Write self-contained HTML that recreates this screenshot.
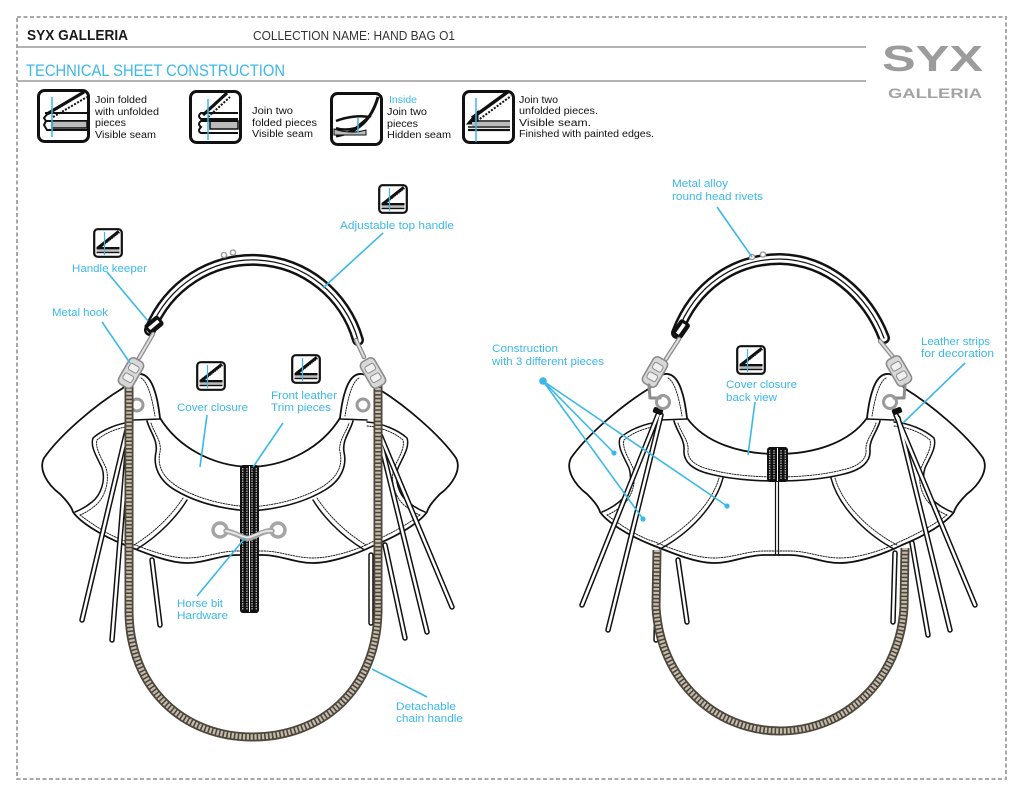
<!DOCTYPE html>
<html><head><meta charset="utf-8">
<style>
html,body{margin:0;padding:0;background:#fff;}
svg{display:block;}
text{font-family:"Liberation Sans",Arial,sans-serif;}
</style></head><body>
<svg width="1024" height="791" viewBox="0 0 1024 791" xmlns="http://www.w3.org/2000/svg">
<defs>
<g id="ic">
 <rect x="1.2" y="1.2" width="27.6" height="27.6" rx="3.5" fill="#fff" stroke="#111" stroke-width="2.2"/>
 <path d="M4.5 20.5 L26 3.5" stroke="#111" stroke-width="3.4" fill="none"/>
 <path d="M8 20 L26.5 5.2" stroke="#fff" stroke-width="0.9" stroke-dasharray="1.2 1" fill="none"/>
 <rect x="3.5" y="19" width="23" height="2.4" fill="#111"/>
 <rect x="3.5" y="21.4" width="23" height="2.4" fill="#bdbdbd"/>
 <rect x="3.5" y="23.8" width="23" height="1.4" fill="#111"/>
 <line x1="11.5" y1="4" x2="11.5" y2="27" stroke="#3bb8e8" stroke-width="1.2"/>
</g>
</defs>

<!-- frame -->
<rect x="17" y="17" width="989" height="762" fill="none" stroke="#a8a8a8" stroke-width="2" stroke-dasharray="4 2.5"/>

<!-- header -->
<text x="27" y="40" font-size="15" font-weight="bold" fill="#1a1a1a" textLength="101" lengthAdjust="spacingAndGlyphs">SYX GALLERIA</text>
<text x="253" y="40" font-size="12.5" fill="#333" textLength="202" lengthAdjust="spacingAndGlyphs">COLLECTION NAME: HAND BAG O1</text>
<line x1="17" y1="47" x2="866" y2="47" stroke="#9a9a9a" stroke-width="1.5"/>
<text x="26" y="76" font-size="16.5" fill="#3bb8e8" textLength="259" lengthAdjust="spacingAndGlyphs">TECHNICAL SHEET CONSTRUCTION</text>
<line x1="17" y1="81" x2="866" y2="81" stroke="#9a9a9a" stroke-width="1.5"/>
<text x="882" y="71" font-size="36" font-weight="bold" fill="#9c9c9c" textLength="101" lengthAdjust="spacingAndGlyphs">SYX</text>
<text x="888" y="98" font-size="14" font-weight="bold" fill="#a3a3a3" textLength="94" lengthAdjust="spacingAndGlyphs">GALLERIA</text>

<!-- legend icon 1 -->
<g fill="none" stroke="#111">
 <rect x="38.5" y="90.5" width="50" height="51" rx="6" fill="#fff" stroke-width="3"/>
 <path d="M47 114 L84 92" stroke-width="3.2"/>
 <path d="M53 117 L87 97" stroke-width="2" stroke-dasharray="2 1.5"/>
 <path d="M48 113 L44 118 L46 121 H87" stroke-width="2"/>
 <path d="M45 113 H87" stroke-width="2"/>
 <path d="M52 121 H87 V128 H52 Z" fill="#bbb" stroke-width="1.5"/>
 <path d="M46 121 L44 125 L47 130 H87" stroke-width="2"/>
 <line x1="52" y1="97" x2="52" y2="137" stroke="#3bb8e8" stroke-width="1.5"/>
</g>
<text font-size="10" fill="#111">
 <tspan x="95" y="103" textLength="52" lengthAdjust="spacingAndGlyphs">Join folded</tspan>
 <tspan x="95" y="115" textLength="64" lengthAdjust="spacingAndGlyphs">with unfolded</tspan>
 <tspan x="95" y="126" textLength="31" lengthAdjust="spacingAndGlyphs">pieces</tspan>
 <tspan x="95" y="138" textLength="61" lengthAdjust="spacingAndGlyphs">Visible seam</tspan>
</text>

<!-- legend icon 2 -->
<g fill="none" stroke="#111">
 <rect x="190.5" y="91.5" width="50" height="51" rx="6" fill="#fff" stroke-width="3"/>
 <path d="M203 115 L227 93" stroke-width="3.2"/>
 <path d="M208 117 L230 97" stroke-width="2" stroke-dasharray="2 1.5"/>
 <path d="M238 113 H201 Q197 116 201 119 H238" stroke-width="2"/>
 <path d="M210 121 H238 V129 H210 Z" fill="#bbb" stroke-width="1.5"/>
 <path d="M238 121 H201 Q197 124 201 127 Q197 131 201 133 H238" stroke-width="2"/>
 <line x1="208" y1="99" x2="208" y2="140" stroke="#3bb8e8" stroke-width="1.5"/>
</g>
<text font-size="10" fill="#111">
 <tspan x="252" y="114" textLength="41" lengthAdjust="spacingAndGlyphs">Join two</tspan>
 <tspan x="252" y="126" textLength="65" lengthAdjust="spacingAndGlyphs">folded pieces</tspan>
 <tspan x="252" y="137" textLength="61" lengthAdjust="spacingAndGlyphs">Visible seam</tspan>
</text>

<!-- legend icon 3 -->
<g fill="none" stroke="#111">
 <rect x="331.5" y="93.5" width="50" height="51" rx="6" fill="#fff" stroke-width="3"/>
 <path d="M378 97 C372 118 360 132 336 136" stroke-width="3"/>
 <path d="M334 129 C346 133 356 133 366 130 L366 135 L334 135 Z" fill="#bbb" stroke-width="1"/>
 <path d="M336 121 C346 117 360 115 369 117 L356 128 C348 130 341 130 336 128" stroke-width="2.5"/>
 <line x1="358" y1="118" x2="358" y2="133" stroke="#3bb8e8" stroke-width="1.5"/>
</g>
<text font-size="10">
 <tspan x="389" y="103" fill="#3bb8e8" textLength="28" lengthAdjust="spacingAndGlyphs">Inside</tspan>
 <tspan x="387" y="115" fill="#111" textLength="40" lengthAdjust="spacingAndGlyphs">Join two</tspan>
 <tspan x="387" y="127" fill="#111" textLength="31" lengthAdjust="spacingAndGlyphs">pieces</tspan>
 <tspan x="387" y="138" fill="#111" textLength="64" lengthAdjust="spacingAndGlyphs">Hidden seam</tspan>
</text>

<!-- legend icon 4 -->
<g fill="none" stroke="#111">
 <rect x="463.5" y="91.5" width="50" height="51" rx="6" fill="#fff" stroke-width="3"/>
 <path d="M472 118 L509 91" stroke-width="3.4"/>
 <path d="M477 121 L511 96" stroke-width="2" stroke-dasharray="2 1.5"/>
 <path d="M467 124 L478 111 L478 124 Z" fill="#111" stroke-width="1"/>
 <path d="M472 121 H510" stroke-width="1.5"/>
 <rect x="472" y="122" width="38" height="4" fill="#bbb" stroke="none"/>
 <path d="M468 127 H510" stroke-width="1.5"/>
 <path d="M468 130 H510" stroke-width="2.2"/>
 <line x1="476" y1="98" x2="476" y2="142" stroke="#3bb8e8" stroke-width="1.5"/>
</g>
<text font-size="10" fill="#111">
 <tspan x="519" y="103" textLength="39" lengthAdjust="spacingAndGlyphs">Join two</tspan>
 <tspan x="519" y="114" textLength="79" lengthAdjust="spacingAndGlyphs">unfolded pieces.</tspan>
 <tspan x="519" y="126" textLength="72" lengthAdjust="spacingAndGlyphs">Visible seam.</tspan>
 <tspan x="519" y="137" textLength="135" lengthAdjust="spacingAndGlyphs">Finished with painted edges.</tspan>
</text>

<!-- ================= LEFT BAG ================= -->
<g fill="none" stroke="#111" stroke-linecap="round" stroke-linejoin="round">
 <!-- handle -->
 <path d="M150 330 C168 285 212 258 257 260 C305 262 345 295 358 340" stroke-width="12"/>
 <path d="M150 330 C168 285 212 258 257 260 C305 262 345 295 358 340" stroke="#fff" stroke-width="7"/>
 <path d="M150 330 C168 285 212 258 257 260 C305 262 345 295 358 340" stroke-width="1.3"/>
 <circle cx="224" cy="255" r="2.6" stroke="#999" stroke-width="1.4" fill="#fff"/>
 <circle cx="233" cy="252.5" r="2.6" stroke="#999" stroke-width="1.4" fill="#fff"/>

 <!-- body silhouette -->
 <path d="M123 388 C127 380 132 375 138 374 C147 373 152 382 155 392 C158 401 159 410 160 418 C178 447 212 466 250 467 C288 466 322 447 340 418 C341 410 342 401 345 392 C348 382 353 373 362 374 C368 375 373 380 377 388 C405 405 440 435 456 458 C462 470 452 485 440 494 C432 502 428 508 427 512 C420 522 400 535 375 545 C355 555 330 563 313 563 C295 563 280 555 263 555 L237 555 C220 555 205 563 187 563 C170 563 150 555 125 545 C100 535 80 522 73 512 C72 508 68 502 60 494 C48 485 38 470 44 458 C60 435 95 405 123 388 Z" fill="#fff" stroke-width="1.8"/>
 <!-- interior -->
 <path d="M133 420 L160 419 M340 419 L367 420" stroke-width="1.5"/>
 <path d="M147 421 C150 432 158 440 156 452 C153 465 158 480 175 490 C195 502 220 509 250 511 C280 509 305 502 325 490 C342 480 347 465 344 452 C342 440 350 432 353 421" stroke-width="1.6"/>
 <path d="M151 423 C154 433 162 441 160 452 C157 465 162 477 178 487 C197 498 221 505 250 507 C279 505 303 498 322 487 C338 477 343 465 340 452 C338 441 346 433 349 423" stroke-width="0.9" stroke-dasharray="1.5 1.2"/>
 <path d="M133 422 C118 423 102 430 93 438 C90 447 97 457 102 468 C106 480 101 495 92 502 C86 507 80 510 75 512" stroke-width="1.5"/>
 <path d="M133 426 C119 427 105 433 97 440 C95 448 101 457 106 468 C110 481 105 497 96 505 C90 510 85 513 80 515" stroke-width="0.9" stroke-dasharray="1.5 1.2"/>
 <path d="M367 422 C382 423 398 430 407 438 C410 447 403 457 398 468 C394 480 399 495 408 502 C414 507 420 510 425 512" stroke-width="1.5"/>
 <path d="M367 426 C381 427 395 433 403 440 C405 448 399 457 394 468 C390 481 395 497 404 505 C410 510 415 513 420 515" stroke-width="0.9" stroke-dasharray="1.5 1.2"/>
 <path d="M187 500 C178 515 160 535 137 549 M313 500 C322 515 340 535 363 549" stroke-width="1.5"/>
 <path d="M183 498 C174 512 157 531 134 545 M317 498 C326 512 343 531 366 545" stroke-width="0.9" stroke-dasharray="1.5 1.2"/>
 <path d="M80 515 C100 530 115 538 128 542 C150 551 170 558 187 558 C205 558 220 551 237 551 L263 551 C280 551 295 558 313 558 C330 558 355 551 372 542 C390 534 405 526 420 515" stroke-width="0.9" stroke-dasharray="1.5 1.2"/>
 <path d="M141 378 C148 382 152 398 155 416 M359 378 C352 382 348 398 345 416" stroke-width="0.9" stroke-dasharray="1.5 1.2"/>

 <!-- leather strips -->
 <g stroke-width="5.5">
  <path d="M127 430 L82 620"/><path d="M128 440 L112 640"/><path d="M152 560 L160 625"/>
  <path d="M378 430 L452 607"/><path d="M380 440 L427 632"/><path d="M385 545 L405 638"/><path d="M371 555 L371 623"/>
 </g>
 <g stroke="#fff" stroke-width="2.5">
  <path d="M127 430 L82 620"/><path d="M128 440 L112 640"/><path d="M152 560 L160 625"/>
  <path d="M378 430 L452 607"/><path d="M380 440 L427 632"/><path d="M385 545 L405 638"/><path d="M371 555 L371 623"/>
 </g>

 <!-- rings -->
 <circle cx="137" cy="405" r="6" stroke="#9a9a9a" stroke-width="3"/>
 <circle cx="363" cy="405" r="6" stroke="#9a9a9a" stroke-width="3"/>

 <!-- chain -->
 <path d="M129 385 L129 612 C130 690 185 737 252 737 C320 737 376 692 378 612 L378 385" stroke="#4d463b" stroke-width="9" stroke-linecap="butt"/>
 <path d="M129 385 L129 612 C130 690 185 737 252 737 C320 737 376 692 378 612 L378 385" stroke="#c4bcae" stroke-width="5.5" stroke-dasharray="2.2 1.6" stroke-linecap="butt"/>

 <!-- keeper -->
 <g transform="rotate(-40 154 325)"><rect x="145" y="319" width="18" height="12" rx="3" fill="#111" stroke="none"/><rect x="148" y="323" width="12" height="3.5" fill="#fff" stroke="none"/></g>
 <!-- hooks -->
 <path d="M153 334 L139 358" stroke="#8c8c8c" stroke-width="4.5"/>
 <path d="M153 334 L139 358" stroke="#e0e0e0" stroke-width="2"/>
 <g transform="rotate(30 131 373)"><rect x="123" y="358" width="16" height="30" rx="5" fill="#d8d8d8" stroke="#8c8c8c" stroke-width="1.6"/><rect x="126" y="364" width="10" height="7" rx="2" fill="#f0f0f0" stroke="#8c8c8c" stroke-width="1"/><rect x="126" y="375" width="10" height="7" rx="2" fill="#f0f0f0" stroke="#8c8c8c" stroke-width="1"/></g>
 <path d="M356 340 L364 357" stroke="#8c8c8c" stroke-width="4.5"/>
 <path d="M356 340 L364 357" stroke="#e0e0e0" stroke-width="2"/>
 <g transform="rotate(-30 373 373)"><rect x="365" y="358" width="16" height="30" rx="5" fill="#d8d8d8" stroke="#8c8c8c" stroke-width="1.6"/><rect x="368" y="364" width="10" height="7" rx="2" fill="#f0f0f0" stroke="#8c8c8c" stroke-width="1"/><rect x="368" y="375" width="10" height="7" rx="2" fill="#f0f0f0" stroke="#8c8c8c" stroke-width="1"/></g>

 <!-- center strap -->
 <rect x="240" y="465" width="19" height="148" rx="3" fill="#111" stroke="none"/>
 <g stroke="#fff" stroke-width="0.9" stroke-linecap="butt">
  <path d="M242.8 468 V610 M247 468 V610 M252 468 V610 M256.2 468 V610" stroke-dasharray="1.5 1"/>
  <path d="M249.5 466 V612" stroke-width="1"/>
 </g>

 <!-- horse bit -->
 <circle cx="220" cy="530" r="7" stroke="#a5a5a5" stroke-width="3.5"/>
 <circle cx="278" cy="530" r="7" stroke="#a5a5a5" stroke-width="3.5"/>
 <path d="M226 531 C238 533 244 540 250 538 C257 536 264 530 272 531" stroke="#a5a5a5" stroke-width="5.5"/>
 <path d="M226 531 C238 533 244 539 250 537 C257 535 264 530 272 531" stroke="#e6e6e6" stroke-width="2"/>
</g>

<!-- left icons -->
<use href="#ic" x="93" y="228"/>
<use href="#ic" x="378" y="184"/>
<use href="#ic" x="196" y="361"/>
<use href="#ic" x="291" y="354"/>

<!-- left labels -->
<g stroke="#3bb8e8" stroke-width="1.6">
 <line x1="107" y1="272" x2="148" y2="321"/>
 <line x1="102" y1="322" x2="130" y2="363"/>
 <line x1="383" y1="233" x2="323" y2="288"/>
 <line x1="207" y1="415" x2="200" y2="467"/>
 <line x1="283" y1="423" x2="253" y2="467"/>
 <line x1="197" y1="596" x2="245" y2="538"/>
 <line x1="427" y1="697" x2="372" y2="669"/>
</g>
<g font-size="11" fill="#3bb8e8">
 <text x="72" y="272" textLength="75" lengthAdjust="spacingAndGlyphs">Handle keeper</text>
 <text x="52" y="316" textLength="56" lengthAdjust="spacingAndGlyphs">Metal hook</text>
 <text x="340" y="229" textLength="114" lengthAdjust="spacingAndGlyphs">Adjustable top handle</text>
 <text x="177" y="411" textLength="71" lengthAdjust="spacingAndGlyphs">Cover closure</text>
 <text x="271" y="399" textLength="66" lengthAdjust="spacingAndGlyphs">Front leather</text>
 <text x="271" y="411" textLength="60" lengthAdjust="spacingAndGlyphs">Trim pieces</text>
 <text x="177" y="607" textLength="46" lengthAdjust="spacingAndGlyphs">Horse bit</text>
 <text x="177" y="619" textLength="51" lengthAdjust="spacingAndGlyphs">Hardware</text>
 <text x="396" y="710" textLength="60" lengthAdjust="spacingAndGlyphs">Detachable</text>
 <text x="396" y="722" textLength="67" lengthAdjust="spacingAndGlyphs">chain handle</text>
</g>

<!-- ================= RIGHT BAG ================= -->
<g fill="none" stroke="#111" stroke-linecap="round" stroke-linejoin="round">
 <path d="M677 333 C695 285 735 259 780 259 C828 260 868 295 884 338" stroke-width="12"/>
 <path d="M677 333 C695 285 735 259 780 259 C828 260 868 295 884 338" stroke="#fff" stroke-width="7"/>
 <path d="M677 333 C695 285 735 259 780 259 C828 260 868 295 884 338" stroke-width="1.3"/>
 <circle cx="752" cy="257" r="2.6" stroke="#999" stroke-width="1.4" fill="#fff"/>
 <circle cx="763" cy="254.5" r="2.6" stroke="#999" stroke-width="1.4" fill="#fff"/>

 <path d="M650 388 C654 380 659 375 665 374 C674 373 679 382 682 392 C685 401 686 410 687 418 C705 443 740 454 777 454 C814 454 849 443 867 418 C868 410 869 401 872 392 C875 382 880 373 889 374 C895 375 900 380 904 388 C932 405 967 435 983 458 C989 470 979 485 967 494 C959 502 955 508 954 512 C947 522 927 535 902 545 C882 555 857 563 840 563 C822 563 807 555 790 555 L764 555 C747 555 732 563 714 563 C697 563 677 555 652 545 C627 535 607 522 600 512 C599 508 595 502 587 494 C575 485 565 470 571 458 C587 435 622 405 650 388 Z" fill="#fff" stroke-width="1.8"/>
 <path d="M660 420 L687 419 M867 419 L894 420" stroke-width="1.5"/>
 <path d="M674 421 C677 432 685 440 684 450 C683 462 693 470 710 474 C730 479 755 481 777 481 C799 481 824 479 844 474 C861 470 871 462 870 450 C869 440 877 432 880 421" stroke-width="1.6"/>
 <path d="M678 423 C681 433 689 441 688 450 C687 460 697 467 712 470 C731 475 756 477 777 477 C798 477 823 475 842 470 C857 467 867 460 866 450 C865 441 873 433 876 423" stroke-width="0.9" stroke-dasharray="1.5 1.2"/>
 <path d="M660 422 C645 423 629 430 620 438 C617 447 624 457 629 468 C633 480 628 495 619 502 C613 507 607 510 602 512" stroke-width="1.5"/>
 <path d="M660 426 C646 427 632 433 624 440 C622 448 628 457 633 468 C637 481 632 497 623 505 C617 510 612 513 607 515" stroke-width="0.9" stroke-dasharray="1.5 1.2"/>
 <path d="M894 422 C909 423 925 430 934 438 C937 447 930 457 925 468 C921 480 926 495 935 502 C941 507 947 510 952 512" stroke-width="1.5"/>
 <path d="M894 426 C908 427 922 433 930 440 C932 448 926 457 921 468 C917 481 922 497 931 505 C937 510 942 513 947 515" stroke-width="0.9" stroke-dasharray="1.5 1.2"/>
 <path d="M723 478 C716 505 690 533 660 549 M831 478 C838 505 864 533 894 549" stroke-width="1.5"/>
 <path d="M719 478 C712 503 687 529 657 545 M835 478 C842 503 867 529 897 545" stroke-width="0.9" stroke-dasharray="1.5 1.2"/>
 <path d="M607 515 C627 530 642 538 655 542 C677 551 697 558 714 558 C732 558 747 551 764 551 L790 551 C807 551 822 558 840 558 C857 558 882 551 899 542 C917 534 932 526 947 515" stroke-width="0.9" stroke-dasharray="1.5 1.2"/>
 <path d="M668 378 C675 382 679 398 682 416 M886 378 C879 382 875 398 872 416" stroke-width="0.9" stroke-dasharray="1.5 1.2"/>
 <!-- center seam -->
 <path d="M775.5 481 V555 M778.5 481 V555" stroke-width="1.2"/>
 <rect x="767" y="447" width="21" height="35" rx="3" fill="#111" stroke="none"/>
 <g stroke="#fff" stroke-width="0.9" stroke-linecap="butt">
  <path d="M769.8 450 V479 M774 450 V479 M781 450 V479 M785.2 450 V479" stroke-dasharray="1.5 1"/>
  <path d="M777.5 448 V481" stroke-width="1"/>
 </g>

 <!-- strips -->
 <g stroke-width="5.5">
  <path d="M658 415 L582 605"/><path d="M661 415 L608 630"/><path d="M678 560 L687 622"/><path d="M658 553 L656 640"/>
  <path d="M896 415 L975 605"/><path d="M898 418 L950 630"/><path d="M912 543 L928 635"/><path d="M895 553 L893 622"/>
 </g>
 <g stroke="#fff" stroke-width="2.5">
  <path d="M658 415 L582 605"/><path d="M661 415 L608 630"/><path d="M678 560 L687 622"/><path d="M658 553 L656 640"/>
  <path d="M896 415 L975 605"/><path d="M898 418 L950 630"/><path d="M912 543 L928 635"/><path d="M895 553 L893 622"/>
 </g>
 <rect x="653" y="408" width="10" height="6" rx="2" fill="#111" stroke="none" transform="rotate(20 658 411)"/>
 <rect x="892" y="408" width="10" height="6" rx="2" fill="#111" stroke="none" transform="rotate(-20 897 411)"/>

 <!-- chain -->
 <path d="M657 550 L656 607 C660 680 715 731 780 731 C845 731 900 680 904 607 L905 548" stroke="#4d463b" stroke-width="9" stroke-linecap="butt"/>
 <path d="M657 550 L656 607 C660 680 715 731 780 731 C845 731 900 680 904 607 L905 548" stroke="#c4bcae" stroke-width="5.5" stroke-dasharray="2.2 1.6" stroke-linecap="butt"/>

 <!-- keeper -->
 <g transform="rotate(-55 681 329)"><rect x="672" y="323" width="18" height="12" rx="3" fill="#111" stroke="none"/><rect x="675" y="327" width="12" height="3.5" fill="#fff" stroke="none"/></g>
 <!-- hooks -->
 <path d="M679 339 L666 359" stroke="#8c8c8c" stroke-width="4.5"/>
 <path d="M679 339 L666 359" stroke="#e0e0e0" stroke-width="2"/>
 <g transform="rotate(30 655 372)"><rect x="647" y="357" width="16" height="30" rx="5" fill="#d8d8d8" stroke="#8c8c8c" stroke-width="1.6"/><rect x="650" y="363" width="10" height="7" rx="2" fill="#f0f0f0" stroke="#8c8c8c" stroke-width="1"/><rect x="650" y="374" width="10" height="7" rx="2" fill="#f0f0f0" stroke="#8c8c8c" stroke-width="1"/></g>
 <path d="M649 385 L650 398 L660 398" stroke="#8c8c8c" stroke-width="3"/>
 <circle cx="663" cy="402" r="6.5" stroke="#9a9a9a" stroke-width="3"/>
 <path d="M880 341 L893 357" stroke="#8c8c8c" stroke-width="4.5"/>
 <path d="M880 341 L893 357" stroke="#e0e0e0" stroke-width="2"/>
 <g transform="rotate(-30 899 371)"><rect x="891" y="356" width="16" height="30" rx="5" fill="#d8d8d8" stroke="#8c8c8c" stroke-width="1.6"/><rect x="894" y="362" width="10" height="7" rx="2" fill="#f0f0f0" stroke="#8c8c8c" stroke-width="1"/><rect x="894" y="373" width="10" height="7" rx="2" fill="#f0f0f0" stroke="#8c8c8c" stroke-width="1"/></g>
 <path d="M905 385 L904 398 L894 398" stroke="#8c8c8c" stroke-width="3"/>
 <circle cx="890" cy="402" r="6.5" stroke="#9a9a9a" stroke-width="3"/>
</g>

<use href="#ic" x="736" y="345"/>

<!-- right labels -->
<g stroke="#3bb8e8" stroke-width="1.6">
 <line x1="717" y1="207" x2="752" y2="257"/>
 <line x1="755" y1="402" x2="748" y2="455"/>
 <line x1="965" y1="363" x2="903" y2="423"/>
 <line x1="543" y1="381" x2="614" y2="453"/>
 <line x1="543" y1="381" x2="643" y2="519"/>
 <line x1="543" y1="381" x2="727" y2="506"/>
</g>
<g fill="#3bb8e8">
 <circle cx="543" cy="381" r="3.8"/>
 <circle cx="614" cy="453" r="2.6"/>
 <circle cx="643" cy="519" r="2.6"/>
 <circle cx="727" cy="506" r="2.6"/>
</g>
<g font-size="11" fill="#3bb8e8">
 <text x="672" y="187" textLength="56" lengthAdjust="spacingAndGlyphs">Metal alloy</text>
 <text x="672" y="200" textLength="91" lengthAdjust="spacingAndGlyphs">round head rivets</text>
 <text x="492" y="352" textLength="66" lengthAdjust="spacingAndGlyphs">Construction</text>
 <text x="492" y="365" textLength="112" lengthAdjust="spacingAndGlyphs">with 3 different pieces</text>
 <text x="726" y="388" textLength="71" lengthAdjust="spacingAndGlyphs">Cover closure</text>
 <text x="726" y="401" textLength="51" lengthAdjust="spacingAndGlyphs">back view</text>
 <text x="921" y="345" textLength="69" lengthAdjust="spacingAndGlyphs">Leather strips</text>
 <text x="921" y="357" textLength="73" lengthAdjust="spacingAndGlyphs">for decoration</text>
</g>
</svg>
</body></html>
